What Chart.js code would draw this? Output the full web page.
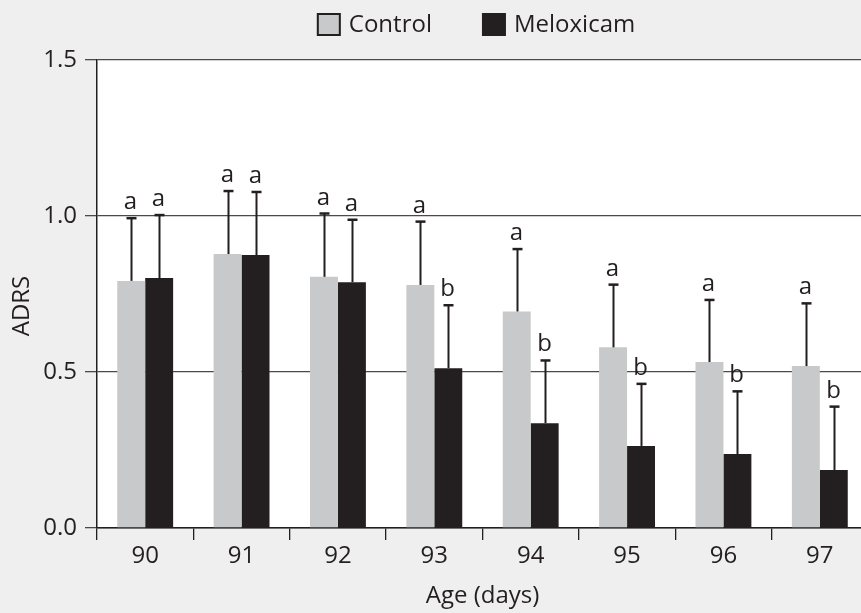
<!DOCTYPE html>
<html>
<head>
<meta charset="utf-8">
<style>
  html, body { margin: 0; padding: 0; overflow: hidden; background: #eeefee; }
  #wrap { width: 868px; height: 613px; }
</style>
<script src="https://cdn.jsdelivr.net/npm/chart.js@4.4.0/dist/chart.umd.min.js"></script>
</head>
<body>
<div id="wrap"><canvas id="c" width="868" height="613"></canvas></div>
<script>
// ---- data ----
const categories = ['90', '91', '92', '93', '94', '95', '96', '97'];
const seriesNames = ['Control', 'Meloxicam'];
const controlMeans = [0.792, 0.878, 0.805, 0.779, 0.694, 0.579, 0.532, 0.519];
const controlErr   = [0.201, 0.202, 0.203, 0.203, 0.200, 0.201, 0.199, 0.201];
const meloxMeans   = [0.801, 0.875, 0.788, 0.512, 0.336, 0.263, 0.237, 0.186];
const meloxErr     = [0.202, 0.202, 0.200, 0.202, 0.201, 0.199, 0.201, 0.203];
const controlLetters = ['a', 'a', 'a', 'a', 'a', 'a', 'a', 'a'];
const meloxLetters   = ['a', 'a', 'a', 'b', 'b', 'b', 'b', 'b'];
const yTickValues = [0, 0.5, 1.0, 1.5];
const xTitle = 'Age (days)';
const yTitle = 'ADRS';

// ---- style ----
const FONT = "'Open Sans', 'Noto Sans', sans-serif";
const INK = '#231f20';
const BG = '#eeefee';
const CONTROL_COLOR = '#c8c9cb';
const MELOX_COLOR = '#231f20';

const bgPlugin = {
  id: 'bg',
  beforeDraw(chart) {
    const { ctx, chartArea: a } = chart;
    ctx.save();
    ctx.fillStyle = BG;
    ctx.fillRect(0, 0, chart.width, chart.height);
    ctx.fillStyle = '#ffffff';
    ctx.fillRect(a.left, a.top, a.right - a.left, a.bottom - a.top);
    ctx.restore();
  }
};

const errorPlugin = {
  id: 'errs',
  afterDatasetsDraw(chart) {
    const { ctx } = chart;
    const y = chart.scales.y;
    const errs = [controlErr, meloxErr];
    const means = [controlMeans, meloxMeans];
    const letters = [controlLetters, meloxLetters];
    ctx.save();
    ctx.strokeStyle = INK;
    ctx.fillStyle = INK;
    ctx.font = '24px ' + FONT;
    ctx.textAlign = 'center';
    ctx.textBaseline = 'alphabetic';
    chart.data.datasets.forEach((ds, i) => {
      const meta = chart.getDatasetMeta(i);
      meta.data.forEach((bar, j) => {
        const x = Math.round(bar.x) + 0.5;
        const top = y.getPixelForValue(means[i][j] + errs[i][j]);
        ctx.lineWidth = 2;
        ctx.beginPath();
        ctx.moveTo(x, bar.y);
        ctx.lineTo(x, top);
        ctx.stroke();
        ctx.lineWidth = 2.5;
        ctx.beginPath();
        ctx.moveTo(x - 5, top);
        ctx.lineTo(x + 5, top);
        ctx.stroke();
        ctx.fillText(letters[i][j], x - 1, top - 9);
      });
    });
    ctx.restore();
  }
};

const yTitlePlugin = {
  id: 'ytitle',
  afterDraw(chart) {
    const { ctx } = chart;
    ctx.save();
    ctx.fillStyle = INK;
    ctx.font = '24px ' + FONT;
    ctx.textAlign = 'center';
    ctx.textBaseline = 'middle';
    ctx.translate(22, 306);
    ctx.rotate(-Math.PI / 2);
    ctx.fillText(yTitle, 0, 0);
    ctx.restore();
  }
};

const legendPlugin = {
  id: 'customLegend',
  afterDraw(chart) {
    const { ctx } = chart;
    ctx.save();
    ctx.font = '24px ' + FONT;
    const boxW = 24, boxH = 23, gap = 8, itemGap = 50;
    const items = chart.data.datasets.map(ds => ({
      label: ds.label, color: ds.backgroundColor, w: ctx.measureText(ds.label).width
    }));
    const total = items.reduce((s, it) => s + boxW + gap + it.w, 0) + itemGap * (items.length - 1);
    let x = 476 - total / 2;
    const cy = 24.5;
    items.forEach((it, i) => {
      ctx.fillStyle = it.color;
      ctx.fillRect(x, cy - boxH / 2, boxW, boxH);
      if (i === 0) {
        ctx.strokeStyle = INK;
        ctx.lineWidth = 2;
        ctx.strokeRect(x + 1, cy - boxH / 2 + 1, boxW - 2, boxH - 2);
      }
      ctx.fillStyle = INK;
      ctx.textAlign = 'left';
      ctx.textBaseline = 'middle';
      ctx.fillText(it.label, x + boxW + gap, cy + 1);
      x += boxW + gap + it.w + itemGap;
    });
    ctx.restore();
  }
};

new Chart(document.getElementById('c'), {
  type: 'bar',
  data: {
    labels: categories,
    datasets: [
      { label: seriesNames[0], data: controlMeans, backgroundColor: CONTROL_COLOR, borderWidth: 0 },
      { label: seriesNames[1], data: meloxMeans, backgroundColor: MELOX_COLOR, borderWidth: 0 }
    ]
  },
  options: {
    responsive: false,
    animation: false,
    devicePixelRatio: 1,
    layout: { padding: { top: 60, left: 0, right: 0, bottom: 0 } },
    datasets: { bar: { categoryPercentage: 0.58, barPercentage: 1.0 } },
    plugins: {
      legend: { display: false },
      tooltip: { enabled: false }
    },
    scales: {
      x: {
        type: 'category',
        offset: true,
        grid: { offset: true, drawOnChartArea: false, drawTicks: true, tickLength: 12, color: INK, lineWidth: 1.3 },
        border: { display: true, color: INK, width: 1.5 },
        ticks: { color: INK, font: { family: FONT, size: 24 }, padding: 2, maxRotation: 0 },
        title: { display: true, text: xTitle, color: INK, font: { family: FONT, size: 24 }, padding: { top: 0, bottom: 2 } },
        afterFit(scale) { scale.height = 85; }
      },
      y: {
        min: 0, max: 1.5,
        afterBuildTicks(scale) { scale.ticks = yTickValues.map(v => ({ value: v })); },
        grid: { color: '#4a4a4a', lineWidth: 1.3, drawTicks: true, tickLength: 12 },
        border: { display: true, color: INK, width: 1.5 },
        ticks: { color: INK, font: { family: FONT, size: 24 }, padding: 8, callback: v => Number(v).toFixed(1) },
        afterFit(scale) { scale.width = 97; }
      }
    }
  },
  plugins: [bgPlugin, errorPlugin, yTitlePlugin, legendPlugin]
});
</script>
</body>
</html>
